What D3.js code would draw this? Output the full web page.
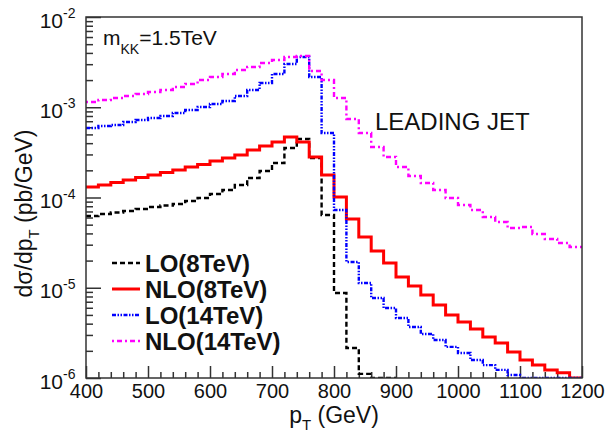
<!DOCTYPE html>
<html>
<head>
<meta charset="utf-8">
<script src="https://cdn.jsdelivr.net/npm/d3@7"></script>
<style>
    body { margin: 0; background: #fff; }
    svg text { font-family: "Liberation Sans", Arial, sans-serif; fill: #111; }
</style>
</head>
<body>
<div id="chart"></div>
<script>
// bin lower edges (GeV), 20 GeV wide
var binLow = [400, 420, 440, 460, 480, 500, 520, 540, 560, 580,
    600, 620, 640, 660, 680, 700, 720, 740, 760, 780,
    800, 820, 840, 860, 880, 900, 920, 940, 960, 980,
    1000, 1020, 1040, 1060, 1080, 1100, 1120, 1140, 1160, 1180];
var binWidth = 20;

// dsigma/dpT (pb/GeV)
var lo8 = [6.24e-5, 6.57e-5, 6.82e-5, 7.09e-5, 7.46e-5, 7.85e-5, 8.15e-5, 8.47e-5, 9.15e-5, 9.87e-5,
    1.093e-4, 1.211e-4, 1.375e-4, 1.644e-4, 1.966e-4, 2.412e-4, 3.536e-4, 4.447e-4, 2.739e-4, 6.40e-5,
    8.74e-6, 2.15e-6, 1.11e-6, 5e-7, 4e-7];
var nlo8 = [1.306e-4, 1.375e-4, 1.466e-4, 1.563e-4, 1.666e-4, 1.776e-4, 1.892e-4, 2.017e-4, 2.178e-4, 2.321e-4,
    2.537e-4, 2.739e-4, 2.957e-4, 3.360e-4, 3.720e-4, 4.121e-4, 4.682e-4, 4.121e-4, 2.810e-4, 1.776e-4,
    1.013e-4, 5.78e-5, 3.65e-5, 2.55e-5, 1.88e-5, 1.315e-5, 1.045e-5, 8.31e-6, 6.44e-6, 4.99e-6,
    4.17e-6, 3.49e-6, 2.85e-6, 2.44e-6, 1.94e-6, 1.58e-6, 1.39e-6, 1.23e-6, 1.14e-6, 8e-7];
var lo14 = [5.89e-4, 6.20e-4, 6.36e-4, 6.86e-4, 7.22e-4, 7.60e-4, 8.00e-4, 8.64e-4, 9.32e-4, 1.006e-3,
    1.086e-3, 1.173e-3, 1.333e-3, 1.552e-3, 1.857e-3, 2.336e-3, 3.014e-3, 3.603e-3, 2.164e-3, 5.18e-4,
    7.27e-5, 1.93e-5, 1.129e-5, 7.70e-6, 5.97e-6, 4.62e-6, 3.67e-6, 3.07e-6, 2.64e-6, 2.21e-6,
    1.89e-6, 1.58e-6, 1.39e-6, 1.23e-6, 1.08e-6, 8e-7, 7e-7, 6e-7, 5e-7, 4e-7];
var nlo14 = [1.143e-3, 1.203e-3, 1.266e-3, 1.333e-3, 1.403e-3, 1.476e-3, 1.552e-3, 1.676e-3, 1.810e-3, 2.003e-3,
    2.164e-3, 2.336e-3, 2.586e-3, 2.793e-3, 3.092e-3, 3.339e-3, 3.603e-3, 3.696e-3, 2.521e-3, 2.003e-3,
    1.266e-3, 7.41e-4, 5.18e-4, 3.627e-4, 2.810e-4, 2.178e-4, 1.730e-4, 1.448e-4, 1.211e-4, 9.87e-5,
    8.26e-5, 7.27e-5, 6.08e-5, 5.35e-5, 4.59e-5, 4.71e-5, 3.94e-5, 3.47e-5, 3.13e-5, 2.83e-5];

var xMajorTicks = [400, 500, 600, 700, 800, 900, 1000, 1100, 1200];
var yDecades = [1e-2, 1e-3, 1e-4, 1e-5, 1e-6];
var yExponents = ["-2", "-3", "-4", "-5", "-6"];

var series = [
    {label: "LO(8TeV)", data: lo8, color: "#000000", width: 2.4, dash: "5,3"},
    {label: "NLO(8TeV)", data: nlo8, color: "#ff0000", width: 3, dash: null},
    {label: "LO(14TeV)", data: lo14, color: "#0000ff", width: 2.4, dash: "4,1.5,1.5,1.5,1.5,1.5"},
    {label: "NLO(14TeV)", data: nlo14, color: "#ff00ff", width: 2.4, dash: "2,3,5,3"}
];

var margin = {top: 17, right: 27, bottom: 58, left: 86},
    width = 609 - margin.left - margin.right,
    height = 436 - margin.top - margin.bottom;

var svg = d3.select("#chart").append("svg")
    .attr("width", 609)
    .attr("height", 436)
    .append("g")
    .attr("transform", "translate(" + margin.left + "," + margin.top + ")");

var x = d3.scaleLinear().domain([400, 1200]).range([0, width]);
var y = d3.scaleLog().domain([1e-6, 1e-2]).range([height, 0]).clamp(true);

svg.append("clipPath").attr("id", "plot-clip")
    .append("rect").attr("width", width).attr("height", height);

// minor ticks
var xMinorTicks = binLow.filter(function(v) { return v % 100 !== 0; });
var yMinorTicks = [];
yDecades.slice(1).forEach(function(d) {
    [2, 3, 4, 5, 6, 7, 8, 9].forEach(function(k) { yMinorTicks.push(d * k); });
});

function styleAxis(g) {
    g.select(".domain").remove();
    g.selectAll(".tick line").attr("stroke", "#333").attr("stroke-width", 1.5);
}

svg.append("g")
    .attr("transform", "translate(0," + height + ")")
    .call(d3.axisBottom(x).tickValues(xMinorTicks).tickSizeInner(-6).tickSizeOuter(0).tickFormat(""))
    .call(styleAxis);

var xAxisG = svg.append("g")
    .attr("transform", "translate(0," + height + ")")
    .call(d3.axisBottom(x).tickValues(xMajorTicks).tickSizeInner(-12).tickSizeOuter(0).tickPadding(6).tickFormat(d3.format("d")))
    .call(styleAxis);
xAxisG.selectAll("text").style("font-size", "20px").attr("fill", "#111");

svg.append("g")
    .call(d3.axisLeft(y).tickValues(yMinorTicks).tickSizeInner(-7).tickSizeOuter(0).tickFormat(""))
    .call(styleAxis);
svg.append("g")
    .call(d3.axisLeft(y).tickValues(yDecades).tickSizeInner(-15).tickSizeOuter(0).tickFormat(""))
    .call(styleAxis);

// y labels 10^n
yDecades.forEach(function(d, i) {
    svg.append("text")
        .attr("x", -23).attr("y", y(d) + 10.5)
        .attr("text-anchor", "end")
        .style("font-size", "21px")
        .text("10");
    svg.append("text")
        .attr("x", -23).attr("y", y(d) + 1)
        .style("font-size", "14px")
        .text(yExponents[i]);
});

// histograms
var line = d3.line()
    .x(function(d) { return x(d[0]); })
    .y(function(d) { return y(d[1]); })
    .curve(d3.curveStepAfter);

var plot = svg.append("g").attr("clip-path", "url(#plot-clip)");
series.forEach(function(s) {
    var pts = s.data.map(function(v, i) { return [binLow[i], v]; });
    pts.push([binLow[s.data.length - 1] + binWidth, s.data[s.data.length - 1]]);
    plot.append("path")
        .datum(pts)
        .attr("fill", "none")
        .attr("stroke", s.color)
        .attr("stroke-width", s.width)
        .attr("stroke-dasharray", s.dash)
        .attr("d", line);
});

// frame
svg.append("rect")
    .attr("width", width).attr("height", height)
    .attr("fill", "none").attr("stroke", "#333").attr("stroke-width", 1.5);

// annotations
var mkk = svg.append("text").attr("x", 17).attr("y", 28).style("font-size", "21px");
mkk.append("tspan").text("m");
mkk.append("tspan").attr("dy", 9).style("font-size", "14px").text("KK");
mkk.append("tspan").attr("dy", -9).text("=1.5TeV");

svg.append("text")
    .attr("x", 289).attr("y", 113)
    .style("font-size", "24px")
    .text("LEADING JET");

// legend
var legend = svg.append("g").attr("transform", "translate(26,246)");
series.forEach(function(s, i) {
    var row = legend.append("g").attr("transform", "translate(0," + (i * 26) + ")");
    row.append("line")
        .attr("x1", 0).attr("x2", 28)
        .attr("stroke", s.color)
        .attr("stroke-width", s.width)
        .attr("stroke-dasharray", s.dash);
    row.append("text")
        .attr("x", 33).attr("y", 9)
        .style("font-size", "24px").style("font-weight", "bold")
        .text(s.label);
});

// axis titles
var xt = svg.append("text")
    .attr("x", width / 2).attr("y", height + 45)
    .attr("text-anchor", "middle")
    .style("font-size", "23px");
xt.append("tspan").text("p");
xt.append("tspan").attr("dy", 7).style("font-size", "15px").text("T");
xt.append("tspan").attr("dy", -7).text(" (GeV)");

var yt = svg.append("text")
    .attr("transform", "translate(-54," + (height / 2 + 16) + ") rotate(-90)")
    .attr("text-anchor", "middle")
    .style("font-size", "23px");
yt.append("tspan").text("d\u03c3/dp");
yt.append("tspan").attr("dy", 7).style("font-size", "15px").text("T");
yt.append("tspan").attr("dy", -7).text(" (pb/GeV)");
</script>
</body>
</html>
